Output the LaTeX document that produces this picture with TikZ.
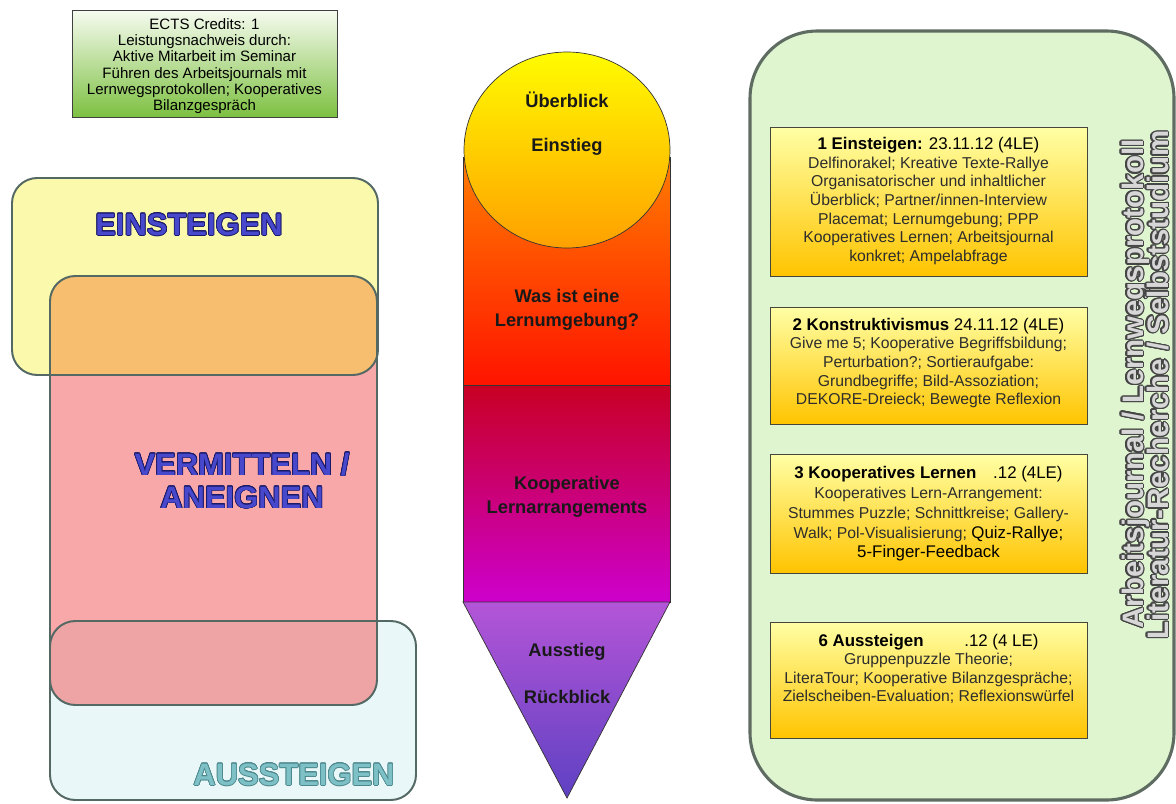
\documentclass[tikz,border=0pt]{standalone}
\usepackage{fontspec}
\setmainfont{Liberation Sans}
\usepackage{contour}
\contourlength{0.5pt}
\usetikzlibrary{positioning}
\definecolor{phaseline}{RGB}{85,105,100}
\definecolor{einfill}{RGB}{251,250,172}
\definecolor{vermfill}{RGB}{248,168,168}
\definecolor{overlapein}{RGB}{248,190,112}
\definecolor{overlapaus}{RGB}{238,164,164}
\definecolor{ausfill}{RGB}{233,247,248}
\definecolor{phaseblue}{RGB}{72,72,205}
\definecolor{phasedark}{RGB}{25,25,105}
\definecolor{austeal}{RGB}{125,192,198}
\definecolor{ausdark}{RGB}{75,135,140}
\definecolor{ectstop}{RGB}{246,251,240}
\definecolor{ectsbottom}{RGB}{125,192,65}
\definecolor{sunA}{RGB}{255,252,0}
\definecolor{sunB}{RGB}{255,160,0}
\definecolor{fireA}{RGB}{255,125,0}
\definecolor{fireB}{RGB}{255,20,0}
\definecolor{plumA}{RGB}{200,0,35}
\definecolor{plumB}{RGB}{205,0,205}
\definecolor{violA}{RGB}{180,85,215}
\definecolor{violB}{RGB}{95,65,195}
\definecolor{planfill}{RGB}{223,245,208}
\definecolor{planline}{RGB}{95,108,98}
\definecolor{slottop}{RGB}{255,255,165}
\definecolor{slotbottom}{RGB}{255,196,0}
\definecolor{slotline}{RGB}{70,70,60}
\definecolor{bodygray}{RGB}{45,45,45}
\definecolor{strandfill}{RGB}{215,215,215}
\definecolor{stranddark}{RGB}{70,70,70}
\newcommand{\slottitle}{\fontsize{12}{13}\selectfont\color{black}}
\newcommand{\slotbody}{\fontsize{11.2}{13.2}\selectfont\color{bodygray}}
\newcommand{\einbox}{(12,178) rectangle (378,375)}
\newcommand{\vermbox}{(50,276) rectangle (377,705)}
\newcommand{\ausbox}{(50,621) rectangle (416,800)}
\tikzset{
	phase/.style={rounded corners=18pt,line width=1.4pt,draw=phaseline},
	phaselabel/.style={font=\fontsize{22}{23.5}\selectfont\bfseries,align=center},
	stage/.style={font=\fontsize{13}{17}\selectfont\bfseries,text=black!90,align=center},
	slot/.style={draw=slotline,line width=0.7pt,top color=slottop,bottom color=slotbottom},
	slottext/.style={align=center,inner sep=0pt,font=\fontsize{11.2}{13.2}\selectfont},
	strand/.style={rotate=90,anchor=base,inner sep=0pt,font=\fontsize{21}{21}\selectfont\bfseries}
}
\begin{document}
\begin{tikzpicture}[x=0.025cm,y=-0.025cm]
	\useasboundingbox (0,0) rectangle (1176,803);
	\shade[top color=ectstop,bottom color=ectsbottom,draw=black!75,line width=0.7pt] (72,10) rectangle (337,117);
	\node[align=center,font=\fontsize{10.7}{11.6}\selectfont,inner sep=0pt] (ects) at (204.5,66) {ECTS Credits: 1\\Leistungsnachweis durch:\\Aktive Mitarbeit im Seminar\\Führen des Arbeitsjournals mit\\Lernwegsprotokollen; Kooperatives\\Bilanzgespräch};
	\fill[einfill,rounded corners=18pt] \einbox;
	\fill[ausfill,rounded corners=18pt] \ausbox;
	\fill[vermfill,rounded corners=18pt] \vermbox;
	\begin{scope}
		\clip[rounded corners=18pt] \einbox;
		\fill[overlapein,rounded corners=18pt] \vermbox;
	\end{scope}
	\begin{scope}
		\clip[rounded corners=18pt] \ausbox;
		\fill[overlapaus,rounded corners=18pt] \vermbox;
	\end{scope}
	\draw[phase] \einbox;
	\draw[phase] \ausbox;
	\draw[phase] \vermbox;
	\node[phaselabel] (ein) at (189,225) {\contour{phasedark}{\textcolor{phaseblue}{EINSTEIGEN}}};
	\node[phaselabel] (verm) at (242,481) {\contour{phasedark}{\textcolor{phaseblue}{VERMITTELN /}}\\\contour{phasedark}{\textcolor{phaseblue}{ANEIGNEN}}};
	\node[phaselabel] (aus) at (294,775) {\contour{ausdark}{\textcolor{austeal}{AUSSTEIGEN}}};
	\shade[top color=fireA,bottom color=fireB,draw=black!80,line width=0.5pt] (463,157) rectangle (670,385);
	\shade[top color=plumA,bottom color=plumB,draw=black!80,line width=0.5pt] (463,385) rectangle (670,602);
	\shade[top color=violA,bottom color=violB,draw=black!80,line width=0.5pt] (463,602) -- (670,602) -- (567,798) -- cycle;
	\shade[top color=sunA,bottom color=sunB,draw=black!80,line width=0.5pt] (567,150) ellipse [x radius=103,y radius=98];
	\node[stage] (ueber) at (567,100) {Überblick};
	\node[stage] (einst) at (567,147) {Einstieg};
	\node[stage] (umgeb) at (567,310) {Was ist eine\\Lernumgebung?};
	\node[stage] (koop) at (567,497) {Kooperative\\Lernarrangements};
	\node[stage] (ausst) at (567,652) {Ausstieg};
	\node[stage] (rueck) at (567,697) {Rückblick};
	\fill[planfill,rounded corners=48pt] (750,31) rectangle (1174,800);
	\draw[planline,line width=2.2pt,rounded corners=48pt] (750,31) rectangle (1174,800);
	\shade[slot] (770,127) rectangle (1087,276);
	\shade[slot] (770,307) rectangle (1087,424);
	\shade[slot] (770,454) rectangle (1087,573);
	\shade[slot] (770,622) rectangle (1087,738);
	\node[slottext] (s1) at (928.5,201) {{\slottitle\textbf{1 Einsteigen:} 23.11.12 (4LE)}\\\slotbody Delfinorakel; Kreative Texte-Rallye\\\slotbody Organisatorischer und inhaltlicher\\\slotbody Überblick; Partner/innen-Interview\\\slotbody Placemat; Lernumgebung; PPP\\\slotbody Kooperatives Lernen; Arbeitsjournal\\\slotbody konkret; Ampelabfrage};
	\node[slottext] (s2) at (928.5,363) {{\slottitle\textbf{2 Konstruktivismus} 24.11.12 (4LE)}\\\slotbody Give me 5; Kooperative Begriffsbildung;\\\slotbody Perturbation?; Sortieraufgabe:\\\slotbody Grundbegriffe; Bild-Assoziation;\\\slotbody DEKORE-Dreieck; Bewegte Reflexion};
	\node[slottext,font=\fontsize{11.2}{14}\selectfont] (s3) at (928.5,514) {{\slottitle\textbf{3 Kooperatives Lernen}\hspace{12pt}.12 (4LE)}\\\slotbody Kooperatives Lern-Arrangement:\\\slotbody Stummes Puzzle; Schnittkreise; Gallery-\\\slotbody Walk; Pol-Visualisierung; {\slottitle Quiz-Rallye;}\\\slottitle 5-Finger-Feedback};
	\node[slottext] (s6) at (928.5,669) {{\slottitle\textbf{6 Aussteigen}\hspace{29pt}.12 (4 LE)}\\\slotbody Gruppenpuzzle Theorie;\\\slotbody LiteraTour; Kooperative Bilanzgespräche;\\\slotbody Zielscheiben-Evaluation; Reflexionswürfel};
	\node[strand] (journal) at (1143,384) {\contourlength{0.9pt}\contour{stranddark}{\textcolor{strandfill}{Arbeitsjournal / Lernwegsprotokoll}}};
	\node[strand] (selbst) at (1168,385) {\contourlength{0.9pt}\contour{stranddark}{\textcolor{strandfill}{Literatur-Recherche / Selbststudium}}};
\end{tikzpicture}
\end{document}
